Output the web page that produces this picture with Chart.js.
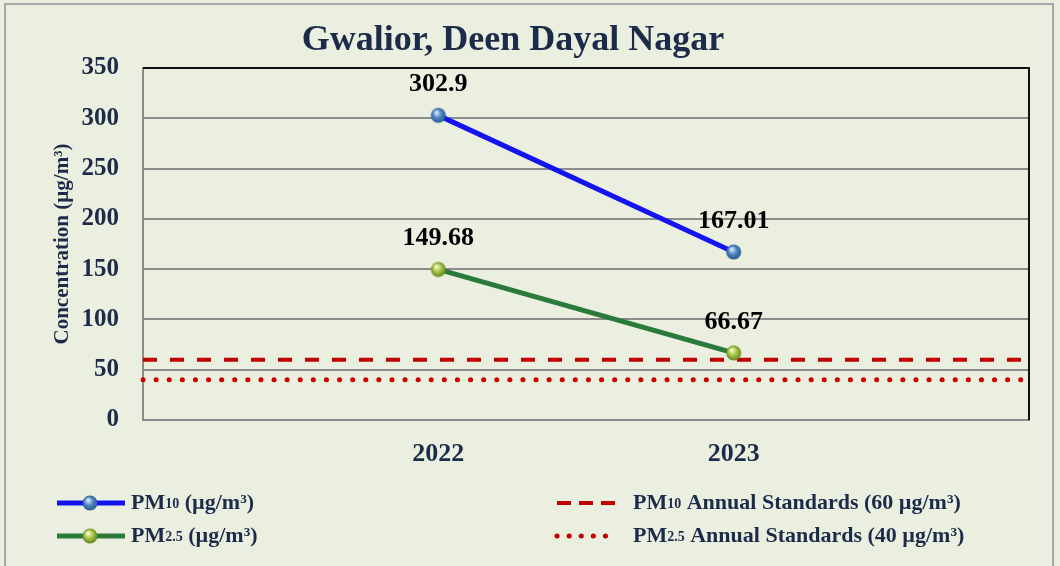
<!DOCTYPE html>
<html>
<head>
<meta charset="utf-8">
<script src="https://cdn.jsdelivr.net/npm/chart.js@4"></script>
<style>
  html, body { margin: 0; padding: 0; background: #ebefdf; overflow: hidden; }
  #wrap { position: relative; width: 1060px; height: 566px; }
  #frame { position: absolute; left: 4px; top: 3px; width: 1050px; height: 600px; border: 2px solid #a8a8a8; box-sizing: border-box; pointer-events: none; }
  canvas { position: absolute; left: 0; top: 0; }
</style>
</head>
<body>
<div id="wrap">
  <canvas id="chart" width="1060" height="566"></canvas>
  <div id="frame"></div>
</div>
<script>
const years = ["", "2022", "2023", ""];
const pm10 = [null, 302.9, 167.01, null];
const pm25 = [null, 149.68, 66.67, null];
const pm10Std = [60, 60, 60, 60];
const pm25Std = [40, 40, 40, 40];
const yTicks = [0, 50, 100, 150, 200, 250, 300, 350];

const TEXT = "#1c2b4a";
const SERIF = "'Liberation Serif', 'DejaVu Serif', serif";

// little shaded ball used as point marker
function makeBall(base, light, dark) {
    const c = document.createElement("canvas");
    c.width = 18; c.height = 18;
    const g = c.getContext("2d");
    const grad = g.createRadialGradient(7, 6, 1, 9, 9, 8);
    grad.addColorStop(0, light);
    grad.addColorStop(0.45, base);
    grad.addColorStop(1, dark);
    g.beginPath();
    g.arc(9, 9, 7.5, 0, Math.PI * 2);
    g.fillStyle = grad;
    g.fill();
    return c;
}
const blueBall = makeBall("#4f86c6", "#cfe3f7", "#2a5287");
const greenBall = makeBall("#a5c646", "#eef7c2", "#5f7d1e");

// text with subscript pieces, e.g. PM + 10
function richText(ctx, parts, x, y, size) {
    let cx = x;
    parts.forEach(p => {
        const s = p.sub ? Math.round(size * 0.62) : size;
        ctx.font = "bold " + s + "px " + SERIF;
        ctx.fillText(p.t, cx, y + (p.sub ? 1 : 0));
        cx += ctx.measureText(p.t).width;
    });
}

const extras = {
    id: "extras",
    beforeDraw(chart) {
        const ctx = chart.ctx;
        ctx.save();
        ctx.fillStyle = "#ebefdf";
        ctx.fillRect(0, 0, chart.width, chart.height);
        ctx.fillStyle = TEXT;
        ctx.font = "bold 36px " + SERIF;
        ctx.textAlign = "center";
        ctx.textBaseline = "middle";
        ctx.fillText("Gwalior, Deen Dayal Nagar", 513, 41);
        ctx.restore();
    },
    afterDatasetsDraw(chart) {
        const ctx = chart.ctx;
        const a = chart.chartArea;
        ctx.save();
        // black top and right border of plot area
        ctx.strokeStyle = "#111";
        ctx.lineWidth = 2;
        ctx.beginPath();
        ctx.moveTo(a.left, a.top);
        ctx.lineTo(a.right, a.top);
        ctx.lineTo(a.right, a.bottom);
        ctx.stroke();
        // value labels
        ctx.fillStyle = "#000";
        ctx.font = "bold 26px " + SERIF;
        ctx.textAlign = "center";
        ctx.textBaseline = "middle";
        [0, 1].forEach(i => {
            const meta = chart.getDatasetMeta(i);
            const vals = chart.data.datasets[i].data;
            meta.data.forEach((pt, j) => {
                if (vals[j] == null) return;
                ctx.fillText(String(vals[j]), pt.x, pt.y - 31);
            });
        });
        ctx.restore();
    },
    afterDraw(chart) {
        const ctx = chart.ctx;
        ctx.save();
        ctx.fillStyle = TEXT;
        ctx.textBaseline = "middle";
        ctx.textAlign = "left";
        // PM10
        ctx.strokeStyle = "#1414f0"; ctx.lineWidth = 5;
        ctx.beginPath(); ctx.moveTo(57, 503); ctx.lineTo(125, 503); ctx.stroke();
        ctx.drawImage(blueBall, 81, 494);
        richText(ctx, [{t: "PM"}, {t: "10", sub: true}, {t: " (µg/m³)"}], 131, 503, 22);
        // PM2.5
        ctx.strokeStyle = "#2a7a3c";
        ctx.beginPath(); ctx.moveTo(57, 536); ctx.lineTo(125, 536); ctx.stroke();
        ctx.drawImage(greenBall, 81, 527);
        richText(ctx, [{t: "PM"}, {t: "2.5", sub: true}, {t: " (µg/m³)"}], 131, 536, 22);
        // standards
        ctx.strokeStyle = "#c00000";
        ctx.lineWidth = 4;
        ctx.setLineDash([14, 8]);
        ctx.beginPath(); ctx.moveTo(557, 503); ctx.lineTo(623, 503); ctx.stroke();
        ctx.lineWidth = 5;
        ctx.lineCap = "round";
        ctx.setLineDash([0.1, 12]);
        ctx.beginPath(); ctx.moveTo(557, 536); ctx.lineTo(610, 536); ctx.stroke();
        ctx.setLineDash([]);
        richText(ctx, [{t: "PM"}, {t: "10", sub: true}, {t: " Annual Standards (60 µg/m³)"}], 633, 503, 22);
        richText(ctx, [{t: "PM"}, {t: "2.5", sub: true}, {t: " Annual Standards (40 µg/m³)"}], 633, 536, 22);
        ctx.restore();
    }
};

new Chart(document.getElementById("chart"), {
    type: "line",
    data: {
        labels: years,
        datasets: [
            { label: "PM10 (µg/m³)", data: pm10, borderColor: "#1414f0", borderWidth: 5,
              pointStyle: blueBall, pointRadius: 8, order: 0 },
            { label: "PM2.5 (µg/m³)", data: pm25, borderColor: "#2a7a3c", borderWidth: 5,
              pointStyle: greenBall, pointRadius: 8, order: 0 },
            { label: "PM10 Annual Standards (60 µg/m³)", data: pm10Std, borderColor: "#c00000",
              borderWidth: 4, borderDash: [14, 13], pointRadius: 0, order: 1 },
            { label: "PM2.5 Annual Standards (40 µg/m³)", data: pm25Std, borderColor: "#cc0000",
              borderWidth: 5, borderDash: [0.1, 13], borderCapStyle: "round", pointRadius: 0, order: 1 }
        ]
    },
    options: {
        responsive: false,
        animation: false,
        layout: { padding: { top: 68, right: 31, left: 0, bottom: 0 } },
        plugins: { legend: { display: false }, title: { display: false }, tooltip: { enabled: false } },
        scales: {
            x: {
                offset: false,
                grid: { display: false, drawTicks: false },
                border: { color: "#8c8c8c", width: 2 },
                ticks: { color: TEXT, font: { family: SERIF, size: 26, weight: "bold" }, padding: 19, maxRotation: 0, autoSkip: false },
                afterFit: s => { s.height = 146; }
            },
            y: {
                min: 0, max: 350,
                afterBuildTicks: s => { s.ticks = yTicks.map(v => ({ value: v })); },
                grid: { color: "#8c8c8c", lineWidth: 2, drawTicks: false },
                border: { color: "#8c8c8c", width: 2 },
                ticks: { color: TEXT, font: { family: SERIF, size: 25, weight: "bold" }, padding: 24 },
                title: { display: true, text: "Concentration (µg/m³)", color: TEXT,
                         font: { family: SERIF, size: 21, weight: "bold" }, padding: { top: 50, bottom: 0 } },
                afterFit: s => { s.width = 143; }
            }
        }
    },
    plugins: [extras]
});
</script>
</body>
</html>
